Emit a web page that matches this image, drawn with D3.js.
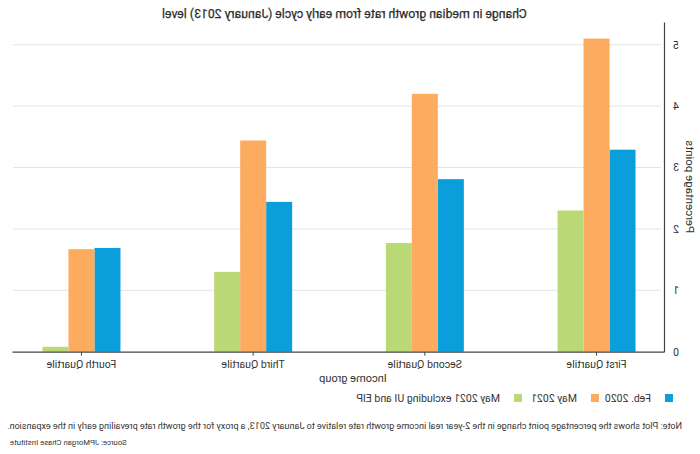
<!DOCTYPE html>
<html>
<head>
<meta charset="utf-8">
<script src="https://cdn.jsdelivr.net/npm/d3@7"></script>
<style>
  html, body { margin: 0; padding: 0; background: #fff; }
  svg { display: block; }
  text { font-family: "Liberation Sans Narrow", "Roboto", "Liberation Sans", sans-serif; fill: #333; }
</style>
</head>
<body>
<svg id="chart" width="700" height="454"></svg>
<script>
const categories = ["First Quartile", "Second Quartile", "Third Quartile", "Fourth Quartile"];
const seriesNames = ["Feb. 2020", "May 2021", "May 2021 excluding UI and EIP"];
const feb2020 = [3.29, 2.81, 2.44, 1.69];
const may2021 = [5.10, 4.20, 3.44, 1.67];
const may2021ExUI = [2.30, 1.77, 1.30, 0.08];
const yTicks = [0, 1, 2, 3, 4, 5];
const colors = ["#0a9edb", "#fdab5f", "#bbd876"];

const chartTitle = "Change in median growth rate from early cycle (January 2013) level";
const xTitle = "Income group";
const yTitle = "Percentage points";
const noteText = "Note: Plot shows the percentage point change in the 2-year real income growth rate relative to January 2013,  a proxy for the growth rate prevailing early in the expansion.";
const sourceText = "Source: JPMorgan Chase Institute";

const series = [feb2020, may2021, may2021ExUI];
const W = 700, H = 454;
const mLeft = 35, mRight = 687, mTop = 22, mBottom = 351.7;

const svg = d3.select("#chart");
// the reference is a horizontally mirrored image
const root = svg.append("g").attr("transform", `translate(${W},0) scale(-1,1)`);

// size a text so that it spans a target width
function fitWidth(sel, targetW, baseSize) {
  sel.style("font-size", baseSize + "px");
  const w = sel.node().getComputedTextLength();
  if (w > 0) sel.style("font-size", (baseSize * targetW / w).toFixed(2) + "px");
  return sel;
}

const x = d3.scaleBand().domain(categories).range([mLeft, mRight])
  .paddingInner(0.5457).paddingOuter(0.1716);
const x1 = d3.scaleBand().domain(d3.range(series.length)).range([0, x.bandwidth()]);
const y = d3.scaleLinear().domain([0, 5.37]).range([mBottom, mTop]);

// gridlines
root.append("g").selectAll("line").data(yTicks.filter(d => d > 0)).join("line")
  .attr("x1", mLeft + 4).attr("x2", mRight).attr("y1", d => y(d)).attr("y2", d => y(d))
  .attr("stroke", "#e5e5e5").attr("stroke-width", 1);

// bars
const groups = root.append("g").selectAll("g").data(categories).join("g")
  .attr("transform", d => `translate(${x(d)},0)`);
groups.selectAll("rect").data((c, i) => series.map((s, j) => ({ j, v: s[i] }))).join("rect")
  .attr("x", d => x1(d.j)).attr("width", x1.bandwidth())
  .attr("y", d => y(d.v)).attr("height", d => y(0) - y(d.v))
  .attr("fill", d => colors[d.j]);

// y axis
const yAxis = root.append("g").attr("transform", `translate(${mLeft},0)`)
  .call(d3.axisLeft(y).tickValues(yTicks).tickSize(0).tickPadding(8).tickFormat(d3.format("d")));
yAxis.select(".domain").attr("stroke", "#444").attr("stroke-width", 1.2);
yAxis.selectAll("text").style("font-size", "10.5px").attr("fill", "#333");

// x axis
const xAxis = root.append("g").attr("transform", `translate(0,${mBottom})`)
  .call(d3.axisBottom(x).tickSize(4).tickSizeOuter(0).tickPadding(5));
xAxis.select(".domain").attr("stroke", "#444").attr("stroke-width", 1.2);
xAxis.selectAll(".tick line").attr("stroke", "#444");
xAxis.selectAll("text").style("font-size", "10.5px").attr("fill", "#333");

// titles
const t = root.append("text").attr("x", 355.5).attr("y", 18).attr("text-anchor", "middle")
  .style("font-weight", "normal").attr("fill", "#222").attr("stroke", "#222").attr("stroke-width", 0.25)
  .text(chartTitle);
fitWidth(t, 365, 13);
root.append("text").attr("x", (mLeft + mRight) / 2 - 14).attr("y", 382).attr("text-anchor", "middle")
  .style("font-size", "11px").text(xTitle);
root.append("text").attr("transform", `translate(14,${(mTop + mBottom) / 2}) rotate(-90)`)
  .attr("text-anchor", "middle").style("font-size", "11.5px").text(yTitle);

// legend
const legendX = [27, 101, 178];
const lg = root.append("g").selectAll("g").data(seriesNames).join("g")
  .attr("transform", (d, i) => `translate(${legendX[i]},394)`);
lg.append("rect").attr("width", 8).attr("height", 8).attr("fill", (d, i) => colors[i]);
lg.append("text").attr("x", 22).attr("y", 8).style("font-size", "10.5px").text(d => d);

// note & source
const n = root.append("text").attr("x", 18).attr("y", 429).text(noteText);
fitWidth(n, 675, 10);
const s = root.append("text").attr("x", 690).attr("y", 445).attr("text-anchor", "end").text(sourceText);
fitWidth(s, 117, 8.5);
</script>
</body>
</html>
